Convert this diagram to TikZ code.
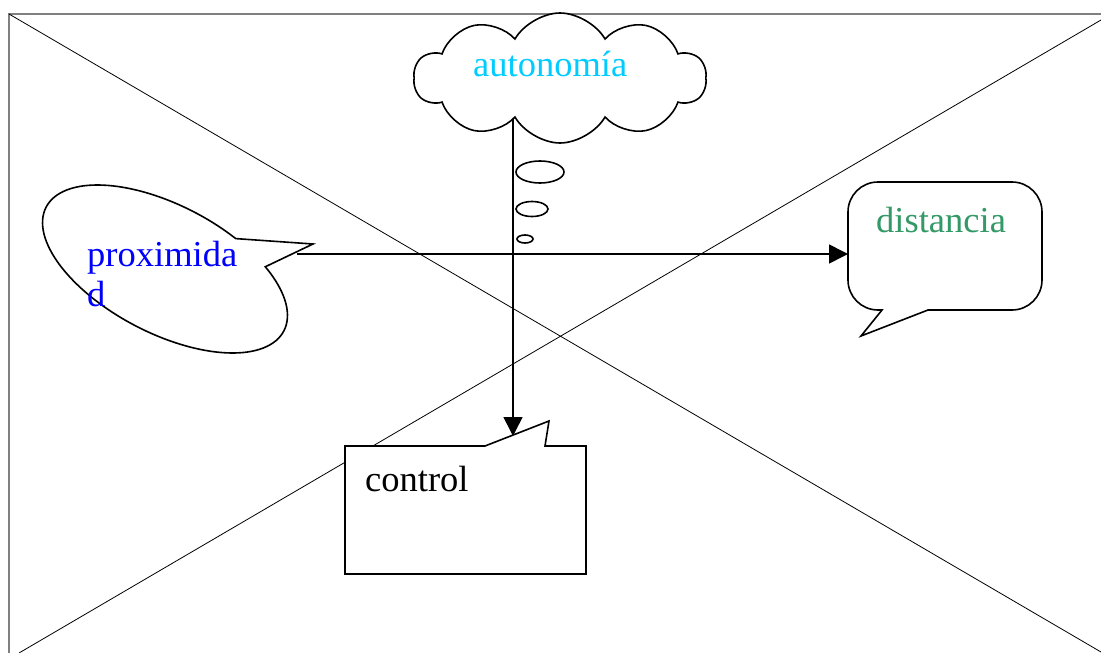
\documentclass[tikz,border=0pt]{standalone}
\usepackage{fontspec}
\setmainfont{Liberation Serif}
\usetikzlibrary{shapes.symbols,arrows.meta}
\definecolor{autcol}{HTML}{00CCFF}
\definecolor{proxcol}{HTML}{0000FF}
\definecolor{distcol}{HTML}{339966}
\begin{document}
\begin{tikzpicture}[x=1pt,y=-1pt,
  outline/.style={draw=black,line width=1.6pt,fill=white,line join=miter},
  lbl/.style={anchor=base west,inner sep=0,font=\fontsize{36.5}{40}\selectfont},
  conn/.style={line width=1.6pt,-{Triangle[length=19pt,width=19pt]}},
  thin/.style={line width=0.8pt}]
\useasboundingbox (0,0) rectangle (1101,653);
% frame and diagonals
\draw[gray, line width=1.5pt] (9,653) -- (9,14) -- (1101,14);
\draw[thin] (9,14) -- (1101,652);
\draw[thin] (1101,20) -- (19,653);
% vertical connector (drawn under the cloud)
\coordinate (cloudfoot) at (513,110);
\coordinate (ctrltop) at (513,436);
\draw[conn] (cloudfoot) -- (ctrltop);
% cloud
\node[cloud, outline, cloud puffs=10, cloud puff arc=120, aspect=2.3,
      minimum width=292pt, minimum height=130pt, inner sep=0] (autonomia) at (560,78) {};
\node[lbl, text=autcol] (auttext) at (473,76) {autonomía};
% thought bubbles
\draw[outline] (540,172) ellipse [x radius=24, y radius=11];
\draw[outline] (532,209) ellipse [x radius=16, y radius=7.5];
\draw[outline] (525,239) ellipse [x radius=8, y radius=4];
% proximidad ellipse callout
\draw[outline] plot[domain=-49:291.3, samples=120, smooth]
  ({165+134*cos(\x)*0.887-64*sin(\x)*0.462},{269+134*cos(\x)*0.462+64*sin(\x)*0.887})
  -- (313,244) -- cycle;
\node[lbl, text=proxcol, align=left] (proxtext) at (87,266) {proximida};
\node[lbl, text=proxcol] (proxtext2) at (87,306) {d};
% distancia callout
\draw[outline] (882,310) -- (861,336) -- (928,310) -- (1012,310)
  .. controls (1028.6,310) and (1042,296.6) .. (1042,280) -- (1042,212)
  .. controls (1042,195.4) and (1028.6,182) .. (1012,182) -- (878,182)
  .. controls (861.4,182) and (848,195.4) .. (848,212) -- (848,280)
  .. controls (848,296.6) and (861.4,310) .. (878,310) -- cycle;
\node[lbl, text=distcol] (disttext) at (876,232) {distancia};
% control callout
\draw[outline] (345,446) -- (485,446) -- (549,421) -- (545,446) -- (586,446)
  -- (586,574) -- (345,574) -- cycle;
\node[lbl, text=black] (ctrltext) at (365,491) {control};
% horizontal connector
\coordinate (proxtip) at (297,254);
\coordinate (distin) at (848,254);
\draw[conn] (proxtip) -- (distin);
\end{tikzpicture}
\end{document}
